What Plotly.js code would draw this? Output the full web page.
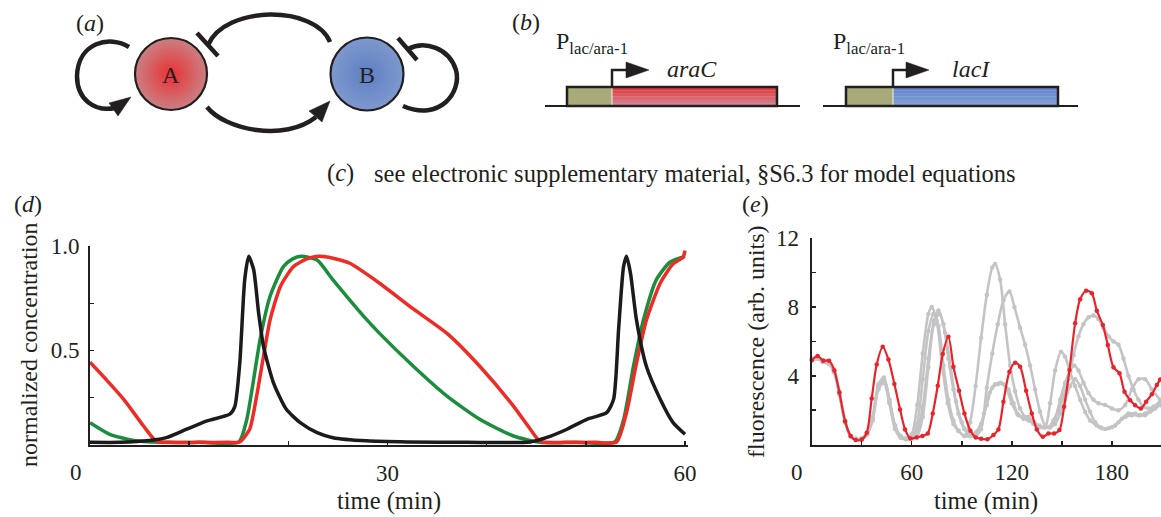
<!DOCTYPE html>
<html><head><meta charset="utf-8">
<script src="https://cdn.plot.ly/plotly-3.0.1.min.js"></script>
<style>body{margin:0;background:#fff}#chart{width:1161px;height:517px}</style>
</head><body><div id="chart"></div><script>
// ---------- panel (d): model time courses (normalized) ----------
const dTimeRed = [0,1.7,3.4,5.4,6.7,8,11,14,15.1,16.1,16.8,17.5,18.15,19.2,20.5,21.8,23,24.5,26.2,29.2,32.6,36,39.3,42.7,44.4,45.4,48,51,53.1,54.1,55.1,56.1,57.5,58.8,59.8,60];
const dRed     = [0.436,0.34,0.239,0.097,0.015,0.01,0.01,0.01,0.012,0.08,0.256,0.47,0.66,0.84,0.945,0.985,1.0,0.99,0.963,0.857,0.72,0.59,0.415,0.203,0.08,0.015,0.01,0.01,0.012,0.168,0.43,0.66,0.857,0.96,0.995,1.03];
const dTimeGreen = [0,2,4.4,7,11,15,15.8,16.5,17.15,18.15,19.5,20.4,21.3,22.9,24.5,27.9,29.2,32.6,36,39.3,42.7,45.4,49,52.9,53.8,54.8,55.8,57.1,58.5,60];
const dGreen     = [0.115,0.053,0.02,0.01,0.01,0.012,0.13,0.345,0.557,0.786,0.945,0.985,1.0,0.98,0.875,0.663,0.59,0.415,0.256,0.133,0.044,0.01,0.01,0.012,0.13,0.415,0.66,0.875,0.97,1.0];
const dTimeBlack = [0,3,6,7.7,9.75,11.8,14.1,14.6,15.1,15.6,16.0,16.5,17,17.5,18.5,19.8,21.2,22.9,24.5,27.9,32,38,44.4,46,48.1,50.1,52.1,52.8,53.3,53.8,54.1,54.5,55.1,56.1,57.5,58.8,60];
const dBlack     = [0.01,0.01,0.02,0.035,0.08,0.124,0.16,0.2,0.43,0.875,1.0,0.93,0.7,0.52,0.327,0.186,0.115,0.062,0.035,0.018,0.012,0.01,0.012,0.035,0.08,0.133,0.168,0.24,0.61,0.945,1.0,0.91,0.663,0.415,0.24,0.115,0.053];
const dXTickVals = [30,60];
const dXTickText = ['30','60'];
const dXMinorVals = [10,20,40,50];
const dYTickVals = [0.5,1.055];
const dYTickText = ['0.5','1.0'];
const dYMinorVals = [0.25,0.75];

// ---------- panel (e): measured fluorescence ----------
const eTimeRed = [0,3.6,7,10.4,13.6,16.6,20,23.4,26.4,30,33,36,39,42.6,46,49.6,53,56,59.2,63,66.4,69.6,72.6,75.6,78.6,82,85,88.4,91.6,95.2,98.4,101.6,105.4,109,112,115,118.6,122,125,128.6,132,135,138.6,142,145.4,148.6,151.4,154.6,158,161,164.6,168,171,174.6,177.6,181,184.6,187.6,191,194,197.4,200.6,204,207,209];
const eRed     = [4.9,5.15,4.88,4.88,4.3,3.03,1.36,0.49,0.26,0.29,0.68,2.68,4.66,5.69,4.95,3.52,2.04,0.88,0.35,0.41,0.49,0.64,1.81,3.42,5.27,6.27,4.53,3.13,1.81,0.8,0.41,0.33,0.31,0.55,0.88,2.49,4.24,4.76,4.53,3.13,1.81,0.88,0.45,0.64,0.64,0.84,2.2,4.33,7.05,8.45,8.95,8.8,7.79,6.95,5.79,4.49,4.14,3.07,2.58,2.29,2.1,2.49,2.93,3.46,3.79];
const eTimeGrey1 = [0,3.3,6.6,10,13.3,16.6,20,23.3,26.6,30,33.3,36.6,40,43.3,46.6,50,53.3,56.6,60,63.3,66.6,70,72,75,78,81.6,85,88,91.6,95,98.3,101.6,105,108.3,110,113,116,119,122,125,128,131,134,137,140,143,146,149.5,152,155,158,161,164,167,171,174,178,182,186,190,194,197,200,203,206,209];
const eGrey1     = [5.0,5.1,4.9,4.85,4.4,3.1,1.4,0.5,0.3,0.3,0.6,1.5,3.5,3.9,2.6,1.1,0.5,0.35,0.6,2.3,5.3,7.6,8.0,7.2,4.8,2.4,1.2,0.8,0.5,1.3,3.4,6.2,8.7,10.3,10.5,9.6,7.0,4.6,3.1,2.1,1.6,1.4,1.2,1.0,1.0,2.4,4.3,5.4,5.1,4.2,3.4,2.6,1.9,1.4,1.1,0.95,0.95,1.1,1.5,1.8,1.8,1.7,1.7,1.9,2.1,2.3];
const eTimeGrey2 = [0,3.3,6.6,10,13.3,16.6,20,23.3,26.6,30,33.3,36.6,40,43.3,46.6,50,53.3,56.6,60,63.3,66.6,70,73.3,76,79,82,85,88,91.6,95,98.3,101.6,105,108.3,111.6,115,118.6,121.6,125,128,131,134,137,140,143,146,149,152,155,157.5,160,163,166,169,172,176,180,184,188,192,196,200,204,209];
const eGrey2     = [4.9,5.0,4.8,4.7,4.2,2.9,1.3,0.5,0.3,0.35,0.7,1.6,3.3,3.7,2.5,1.0,0.45,0.3,0.35,0.8,2.2,5.0,7.2,7.8,7.0,5.0,3.2,1.8,0.9,0.5,0.5,0.9,3.3,5.3,7.0,8.4,8.9,8.0,6.8,5.8,4.6,3.2,1.9,1.1,1.0,1.5,2.6,3.6,4.3,4.6,4.3,3.6,3.0,2.6,2.4,2.3,2.1,2.0,2.3,3.2,3.8,3.8,3.2,2.6];
const eTimeGrey3 = [0,3.3,6.6,10,13.3,16.6,20,23.3,26.6,30,33.3,36.6,40,43.3,46.6,50,53.3,56.6,60,63.3,66.6,70,73,76,79,82,85,88,91.6,95,98.3,101.6,105,108.3,111.6,115,118,121,124,127,130,133,136,139,142,145,148,151,154,157,160,163,166,169,172,175,178,181,184,187,190,193,196,199,202,205,209];
const eGrey3     = [5.0,5.0,4.8,4.8,4.3,3.0,1.3,0.45,0.3,0.3,0.6,1.4,3.2,3.6,2.4,0.9,0.4,0.3,0.4,1.2,3.8,6.6,7.6,6.9,4.6,2.6,1.4,0.8,0.5,0.5,0.7,1.2,2.3,3.3,3.5,3.5,3.2,2.4,1.7,1.5,1.4,1.2,1.0,1.0,1.0,1.4,2.0,2.8,3.8,5.2,6.3,7.0,7.4,7.5,7.3,6.8,6.3,6.0,5.8,5.0,4.0,3.2,2.6,2.2,2.1,2.2,2.5];
const eTimeGrey4 = [0,3.3,6.6,10,13.3,16.6,20,23.3,26.6,30,33.3,36.6,40,43.3,46.6,50,53.3,56.6,60,63.3,66.6,70,73.3,76.6,80,83.3,86.6,90,93.3,96.6,100,103.3,106.6,110,113.3,116.6,120,123.3,126.6,130,133.3,136.6,140,143,146,149,152,155,158,161,164,167,170,173,176,180,184,188,192,196,200,204,209];
const eGrey4     = [4.9,5.0,4.9,4.8,4.3,3.0,1.4,0.5,0.35,0.35,0.7,1.6,3.4,3.8,2.6,1.1,0.5,0.35,0.4,0.5,1.6,4.5,7.0,7.6,6.5,4.5,2.5,1.3,0.7,0.5,0.8,1.8,3.0,3.5,3.6,3.3,2.4,1.8,1.6,1.6,1.3,1.1,1.0,1.0,1.2,1.8,2.6,3.4,3.8,3.4,2.6,1.9,1.3,1.0,0.9,1.0,1.3,1.6,1.7,1.7,1.8,2.0,2.3];
const eXTickVals = [60,120,180];
const eXTickText = ['60','120','180'];
const eXMinorVals = [30,90,150];
const eYTickVals = [4,8,12];
const eYTickText = ['4','8','12'];
const eYMinorVals = [2,6,10];

// ---------- geometry helpers (figure pixels -> paper) ----------
const W = 1161, H = 517;
const px = x => x / W, py = y => 1 - y / H;
function P(s) {
  const tk = s.trim().split(/\s+/); const out = []; let i = 0;
  while (i < tk.length) {
    if (/^[A-Za-z]$/.test(tk[i])) { out.push(tk[i]); i++; }
    else { out.push(px(+tk[i]).toFixed(5) + ',' + py(+tk[i+1]).toFixed(5)); i += 2; }
  }
  return out.join(' ');
}
const INK = '#231f20';
const FONT = 'Liberation Serif, Times New Roman, serif';
const shapes = [];
function lerp(a, b, t) { return a.map((v, k) => Math.round(v + (b[k] - v) * t)); }
function gradCircle(cx, cy, R, edge, center) {
  const N = 14;
  for (let i = 0; i < N; i++) {
    const r = R * (1 - i / N); const c = lerp(edge, center, i / (N - 1));
    shapes.push({type:'circle', xref:'paper', yref:'paper', x0:px(cx-r), x1:px(cx+r), y0:py(cy+r), y1:py(cy-r),
      fillcolor:`rgb(${c[0]},${c[1]},${c[2]})`, line:{width:0}});
  }
  shapes.push({type:'circle', xref:'paper', yref:'paper', x0:px(cx-R), x1:px(cx+R), y0:py(cy+R), y1:py(cy-R),
    line:{color:INK, width:2.2}});
}
function pathShape(d, width, fill) {
  const s = {type:'path', xref:'paper', yref:'paper', path:P(d), line:{color:INK, width:width}};
  if (fill) { s.fillcolor = INK; s.line.width = 0.5; }
  shapes.push(s);
}
function gradRect(x0, y0, x1, y1, top, bottom) {
  const N = 6, h = (y1 - y0) / N;
  for (let i = 0; i < N; i++) {
    const c = lerp(top, bottom, i / (N - 1));
    shapes.push({type:'rect', xref:'paper', yref:'paper', x0:px(x0), x1:px(x1), y0:py(y0 + (i+1)*h + 0.3), y1:py(y0 + i*h),
      fillcolor:`rgb(${c[0]},${c[1]},${c[2]})`, line:{width:0}});
  }
}
function line(x0, y0, x1, y1, w, col) {
  shapes.push({type:'line', xref:'paper', yref:'paper', x0:px(x0), y0:py(y0), x1:px(x1), y1:py(y1), line:{color:col||INK, width:w}});
}

// panel (a) network
gradCircle(171, 74, 36, [203,125,128], [233,52,55]);
gradCircle(367, 74, 36.5, [125,152,205], [96,128,196]);
pathShape('M 129 47 C 110 35 78 42 77 76 C 77 100 95 112 115 108', 4.5);
pathShape('M 131 97 L 109 103 L 118 116 Z', 0, true);
pathShape('M 330 42 C 315 5 225 5 208 45', 4.5);
line(197, 33, 218, 56, 4.5);
pathShape('M 207 107 C 225 130 285 142 316 117', 4.5);
pathShape('M 330 101 L 309 111 L 322 122 Z', 0, true);
pathShape('M 403 106 C 440 122 462 92 456 70 C 449 48 425 40 408 49', 4.5);
line(398, 38, 417, 60, 4.5);

// panel (b) constructs
line(545, 106, 800, 106, 2.2);
line(823, 106, 1078, 106, 2.2);
shapes.push({type:'rect', xref:'paper', yref:'paper', x0:px(567), x1:px(612), y0:py(106), y1:py(87), fillcolor:'#a9aa7a', line:{width:0}});
gradRect(612, 87, 777, 106, [224,58,60], [212,132,148]);
shapes.push({type:'rect', xref:'paper', yref:'paper', x0:px(846), x1:px(893), y0:py(106), y1:py(87), fillcolor:'#a9aa7a', line:{width:0}});
gradRect(893, 87, 1058, 106, [98,132,202], [132,160,216]);
line(612, 88, 612, 105, 1, '#f4f4f0');
line(893, 88, 893, 105, 1, '#f4f4f0');
shapes.push({type:'rect', xref:'paper', yref:'paper', x0:px(567), x1:px(777), y0:py(106), y1:py(87), line:{color:INK, width:2.5}});
shapes.push({type:'rect', xref:'paper', yref:'paper', x0:px(846), x1:px(1058), y0:py(106), y1:py(87), line:{color:INK, width:2.5}});
pathShape('M 612 87 L 612 70 L 628 70', 2.5);
pathShape('M 626 62 L 649 70 L 626 78 Z', 0, true);
pathShape('M 893 87 L 893 70 L 908 70', 2.5);
pathShape('M 906 62 L 929 70 L 906 78 Z', 0, true);

function ann(text, x, y, size, opts) {
  return Object.assign({text:text, x:px(x), y:py(y), xref:'paper', yref:'paper', showarrow:false,
    xanchor:'center', yanchor:'middle', font:{family:FONT, size:size, color:INK}}, opts||{});
}
const annotations = [
  ann('(<i>a</i>)', 90, 23, 24),
  ann('A', 171, 75, 24), ann('B', 367, 75, 24),
  ann('(<i>b</i>)', 526, 22, 24),
  ann('P<sub>lac/ara-1</sub>', 554, 43, 24, {xanchor:'left'}),
  ann('<i>araC</i>', 692, 69, 24),
  ann('P<sub>lac/ara-1</sub>', 831, 43, 24, {xanchor:'left'}),
  ann('<i>lacI</i>', 971, 69, 24),
  ann('(<i>c</i>)', 340, 173, 24.5),
  ann('see electronic supplementary material, §S6.3 for model equations', 372, 173, 24.5, {xanchor:'left'}),
  ann('(<i>d</i>)', 28, 204, 24),
  ann('(<i>e</i>)', 755, 204, 24),
  ann('normalized concentration', 29, 345, 24, {textangle:-90}),
  ann('time (min)', 389, 501, 24.5),
  ann('0', 76, 472, 23),
  ann('fluorescence (arb. units)', 756, 342, 24, {textangle:-90}),
  ann('time (min)', 986, 501, 24.5),
  ann('0', 797, 472, 23)
];

const traces = [
  {x:dTimeGreen, y:dGreen, mode:'lines', line:{color:'#1b8e3e', width:3.5, shape:'spline', smoothing:0.6}, xaxis:'x', yaxis:'y'},
  {x:dTimeRed, y:dRed, mode:'lines', line:{color:'#ee2b25', width:3.5, shape:'spline', smoothing:0.6}, xaxis:'x', yaxis:'y'},
  {x:dTimeBlack, y:dBlack, mode:'lines', line:{color:'#1c1a1a', width:3.5, shape:'spline', smoothing:0.6}, xaxis:'x', yaxis:'y'}
];
[[eTimeGrey1,eGrey1],[eTimeGrey2,eGrey2],[eTimeGrey3,eGrey3],[eTimeGrey4,eGrey4]].forEach(g => {
  traces.push({x:g[0], y:g[1], mode:'lines+markers', line:{color:'#c4c4c6', width:2.6, shape:'spline', smoothing:0.8},
    marker:{color:'#c4c4c6', size:4.5}, xaxis:'x2', yaxis:'y2', cliponaxis:false});
});
traces.push({x:eTimeRed, y:eRed, mode:'lines+markers', line:{color:'#e8242a', width:2.2, shape:'spline', smoothing:0.8},
  marker:{color:'#e8242a', size:4.5}, xaxis:'x2', yaxis:'y2'});

const tickfont = {family:FONT, size:23, color:INK};
function minor(vals) { return {tickmode:'array', tickvals:vals, ticks:'inside', ticklen:4, tickwidth:1.5, tickcolor:INK, showgrid:false}; }
const axBase = {showline:true, linecolor:INK, linewidth:2, ticks:'inside', ticklen:4, tickwidth:1.5, tickcolor:INK,
  showgrid:false, zeroline:false, tickfont:tickfont, tickmode:'array', fixedrange:true};
const layout = {
  width:W, height:H, margin:{l:0, r:0, t:0, b:0}, paper_bgcolor:'#fff', plot_bgcolor:'rgba(0,0,0,0)', showlegend:false,
  xaxis:Object.assign({}, axBase, {domain:[90/W, 688/W], range:[0,60.3], tickvals:dXTickVals, ticktext:dXTickText, minor:minor(dXMinorVals), anchor:'y', ticklabelstandoff:6}),
  yaxis:Object.assign({}, axBase, {domain:[py(445), py(246)], range:[-0.004,1.055], tickvals:dYTickVals, ticktext:dYTickText, minor:minor(dYMinorVals), anchor:'x', ticklabelstandoff:4}),
  xaxis2:Object.assign({}, axBase, {domain:[811.7/W, 1], range:[0,209.5], tickvals:eXTickVals, ticktext:eXTickText, minor:minor(eXMinorVals), anchor:'y2', ticklabelstandoff:6}),
  yaxis2:Object.assign({}, axBase, {domain:[py(444.5), py(238.3)], range:[0,12], tickvals:eYTickVals, ticktext:eYTickText, minor:minor(eYMinorVals), anchor:'x2', ticklabelstandoff:6}),
  shapes:shapes, annotations:annotations
};
Plotly.newPlot('chart', traces, layout, {displayModeBar:false, staticPlot:true});
</script></body></html>
